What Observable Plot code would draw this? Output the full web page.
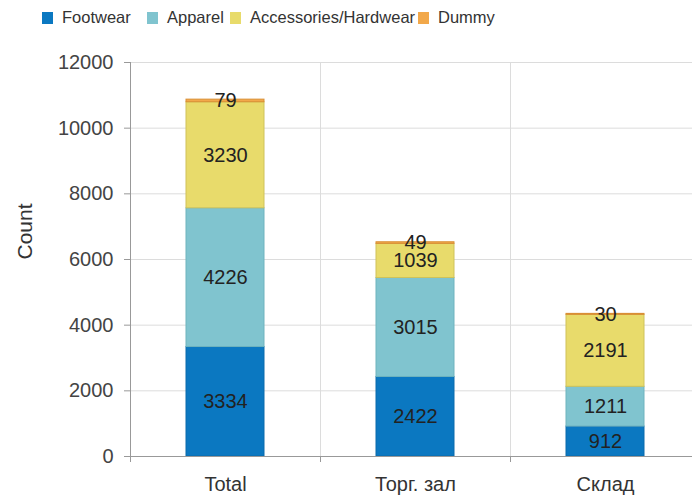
<!DOCTYPE html>
<html>
<head>
<meta charset="utf-8">
<script src="https://cdn.jsdelivr.net/npm/d3@7"></script>
<script src="https://cdn.jsdelivr.net/npm/@observablehq/plot@0.6"></script>
<style>
  html, body { margin: 0; padding: 0; background: #fff; overflow: hidden; }
  body { font-family: "Liberation Sans", Arial, sans-serif; }
  #legend { height: 35px; position: relative; font-size: 16.5px; color: #333; }
  #legend .item { position: absolute; top: 0; height: 35px; display: flex; align-items: center; white-space: nowrap; }
  #legend .sw { width: 11px; height: 12px; margin-right: 9px; }
</style>
</head>
<body>
<div id="legend"></div>
<div id="chart"></div>
<script>
const categories = ["Total", "Торг. зал", "Склад"];
const series = ["Footwear", "Apparel", "Accessories/Hardwear", "Dummy"];
const footwear = [3334, 2422, 912];
const apparel = [4226, 3015, 1211];
const accessories = [3230, 1039, 2191];
const dummy = [79, 49, 30];
const yTicks = [0, 2000, 4000, 6000, 8000, 10000, 12000];
const colors = ["#0b78c1", "#80c4cf", "#e8db6b", "#f2a84a"];
const strokes = ["#0a6aab", "#6fb3be", "#cfc25a", "#d98f35"];
const legendLeft = [42, 147, 230, 418];

const seriesValues = [footwear, apparel, accessories, dummy];
const rows = [];
series.forEach((s, si) => {
  categories.forEach((c, ci) => {
    rows.push({category: c, series: s, value: seriesValues[si][ci]});
  });
});

// legend
const legend = document.getElementById("legend");
series.forEach((s, i) => {
  const it = document.createElement("div");
  it.className = "item";
  it.style.left = legendLeft[i] + "px";
  const sw = document.createElement("div");
  sw.className = "sw";
  sw.style.background = colors[i];
  const t = document.createElement("span");
  t.textContent = s;
  it.appendChild(sw); it.appendChild(t);
  legend.appendChild(it);
});

const half = (692 + 8 - 130) / categories.length / 2;

const chart = Plot.plot({
  width: 692,
  height: 462,
  marginTop: 27,
  marginBottom: 41,
  marginLeft: 130,
  marginRight: -8,
  style: {fontFamily: "Liberation Sans, Arial, sans-serif", background: "#fff", overflow: "visible"},
  x: {domain: categories, paddingInner: 0.59, paddingOuter: 0.295, axis: null},
  y: {domain: [0, 12000], ticks: yTicks, axis: null},
  color: {domain: series, range: colors},
  marks: [
    Plot.gridY(yTicks, {stroke: "#dcdcdc", strokeOpacity: 1}),
    Plot.ruleX(categories.slice(1), {dx: -half, stroke: "#dcdcdc"}),
    Plot.barY(rows, {x: "category", y: "value", fill: "series", z: "series", order: series,
      stroke: d => strokes[series.indexOf(d.series)], strokeWidth: 1}),
    Plot.text(rows, Plot.stackY({x: "category", y: "value", z: "series", order: series, text: d => String(d.value),
      fontSize: 20, fill: "#222"})),
    Plot.ruleX(categories.slice(0, 1), {dx: -half, stroke: "#999"}),
    Plot.ruleY([0], {stroke: "#999"}),
    Plot.axisY(yTicks, {tickSize: 6, tickPadding: 11, stroke: "#999", fontSize: 20, fill: "#444",
      label: null, tickFormat: d => String(d)}),
    Plot.text(["Count"], {text: d => d, frameAnchor: "left", dx: -105, rotate: -90, fontSize: 21, fill: "#333"}),
    Plot.axisX({tickSize: 6, dx: -half, stroke: "#999", tickFormat: () => "", label: null}),
    Plot.axisX({tickSize: 0, tickPadding: 20, fontSize: 20, fill: "#333", label: null})
  ]
});
document.getElementById("chart").appendChild(chart);
</script>
</body>
</html>
